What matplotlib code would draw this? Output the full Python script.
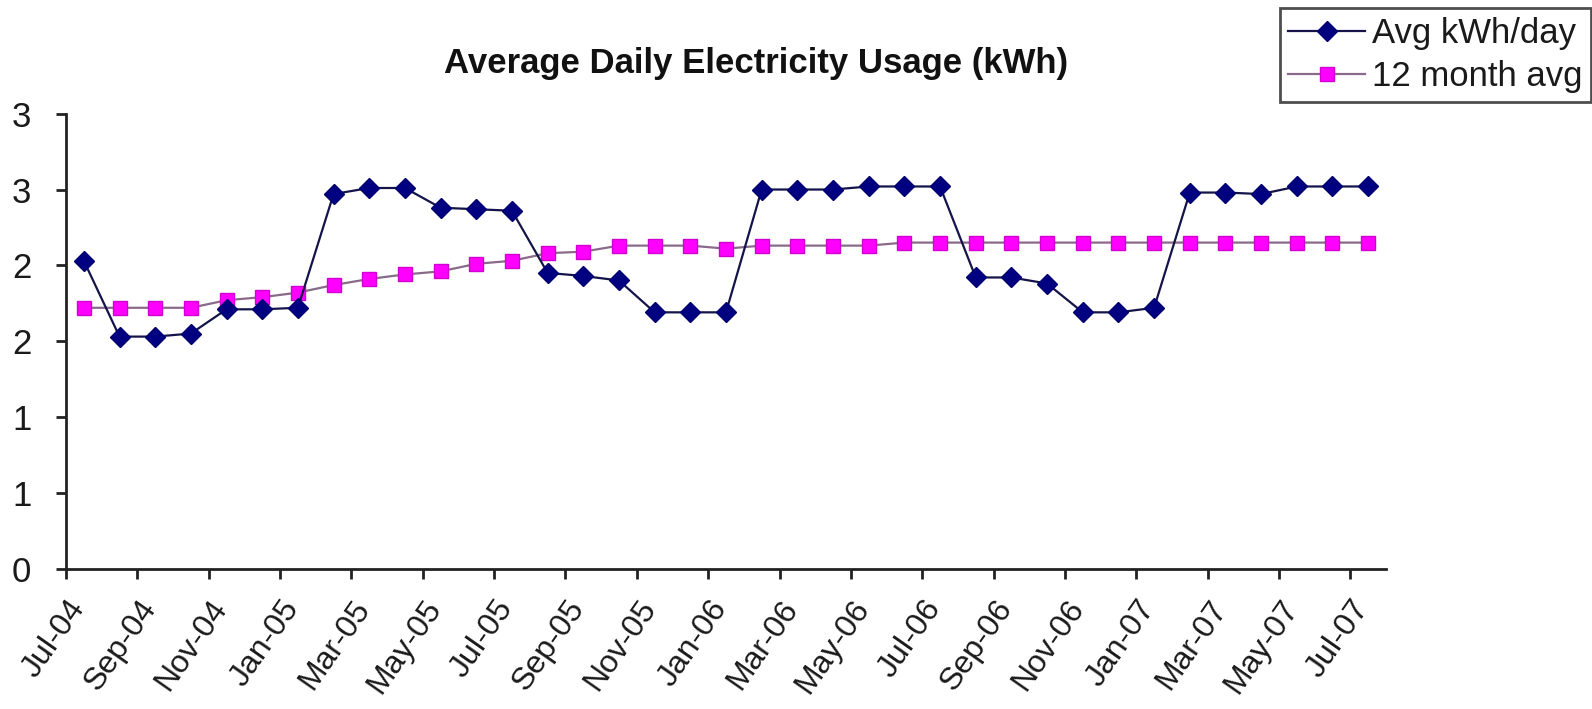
import numpy as np
import matplotlib
matplotlib.use("Agg")
import matplotlib.pyplot as plt
from matplotlib.transforms import ScaledTranslation

plt.rcParams['font.family'] = ['Liberation Sans', 'DejaVu Sans']

months = ["Jul-04", "Aug-04", "Sep-04", "Oct-04", "Nov-04", "Dec-04",
          "Jan-05", "Feb-05", "Mar-05", "Apr-05", "May-05", "Jun-05",
          "Jul-05", "Aug-05", "Sep-05", "Oct-05", "Nov-05", "Dec-05",
          "Jan-06", "Feb-06", "Mar-06", "Apr-06", "May-06", "Jun-06",
          "Jul-06", "Aug-06", "Sep-06", "Oct-06", "Nov-06", "Dec-06",
          "Jan-07", "Feb-07", "Mar-07", "Apr-07", "May-07", "Jun-07",
          "Jul-07"]

avg_kwh_day = [2.03, 1.53, 1.53, 1.55, 1.71, 1.71, 1.72,
               2.47, 2.51, 2.51, 2.38, 2.37, 2.36,
               1.95, 1.93, 1.90, 1.69, 1.69, 1.69,
               2.50, 2.50, 2.50, 2.52, 2.52, 2.52,
               1.92, 1.92, 1.88, 1.69, 1.69, 1.72,
               2.48, 2.48, 2.47, 2.52, 2.52, 2.52]

avg_12_month = [1.72, 1.72, 1.72, 1.72, 1.77, 1.79, 1.82, 1.87, 1.91, 1.94, 1.96, 2.01,
                2.03, 2.08, 2.09, 2.13, 2.13, 2.13, 2.11, 2.13, 2.13, 2.13, 2.13,
                2.15, 2.15, 2.15, 2.15, 2.15, 2.15, 2.15, 2.15, 2.15, 2.15, 2.15,
                2.15, 2.15, 2.15]

y_ticks = [0, 0.5, 1.0, 1.5, 2.0, 2.5, 3.0]
y_tick_labels = ["0", "1", "1", "2", "2", "3", "3"]

title = "Average Daily Electricity Usage (kWh)"
series_names = ["Avg kWh/day", "12 month avg"]

W, H = 1592, 709
fig = plt.figure(figsize=(W / 100, H / 100), dpi=100)
ax = fig.add_axes([66 / W, 1 - 568.6 / H, 1320 / W, (568.6 - 113.7) / H])

TXT = '#1a1a1a'
x = np.arange(len(months))
ax.plot(x, avg_kwh_day, color='#14144a', lw=1.6, marker='D', ms=10,
        mfc='#000080', mec='#000070', label=series_names[0], zorder=3)
ax.plot(x, avg_12_month, color='#8a6a8a', lw=1.6, marker='s', ms=9.5,
        mfc='#ff00ff', mec='#d000d0', label=series_names[1], zorder=2)

ax.set_xlim(-0.5, len(months) - 0.5)
ax.set_ylim(0, 3)

ax.set_yticks(y_ticks)
ax.set_yticklabels(y_tick_labels, fontsize=25)
ax.tick_params(axis='y', length=7, width=2, direction='out', pad=18,
               color='#222222', labelcolor=TXT)

ax.set_xticks(np.arange(-0.5, len(months) - 1, 2))
ax.set_xticklabels([])
ax.tick_params(axis='x', which='major', length=7, width=2, direction='out', color='#222222')

centers = x[::2]
ax.set_xticks(centers, minor=True)
ax.set_xticklabels([months[i] for i in centers], minor=True, fontsize=23)
ax.tick_params(axis='x', which='minor', length=0, pad=25, labelcolor=TXT)
shift = ScaledTranslation(-5 / 100, 0, fig.dpi_scale_trans)
for lbl in ax.get_xticklabels(minor=True):
    lbl.set_rotation(55)
    lbl.set_ha('right')
    lbl.set_va('center')
    lbl.set_rotation_mode('anchor')
    lbl.set_transform(lbl.get_transform() + shift)

for s in ['top', 'right']:
    ax.spines[s].set_visible(False)
for s in ['left', 'bottom']:
    ax.spines[s].set_linewidth(2)
    ax.spines[s].set_color('#222222')

fig.text(756 / W, 1 - 63 / H, title, ha='center', va='center',
         fontsize=25, fontweight='bold', color='#111111')

leg = fig.legend(loc='upper right', bbox_to_anchor=(1591 / W, 1 - 8 / H),
                 fontsize=25, handlelength=2.2, handletextpad=0.2,
                 borderpad=0.25, labelspacing=0.3, fancybox=False,
                 borderaxespad=0, frameon=True)
leg.get_frame().set_edgecolor('#222222')
leg.get_frame().set_linewidth(2)
for t in leg.get_texts():
    t.set_color(TXT)

fig.savefig("out.png", dpi=100)
